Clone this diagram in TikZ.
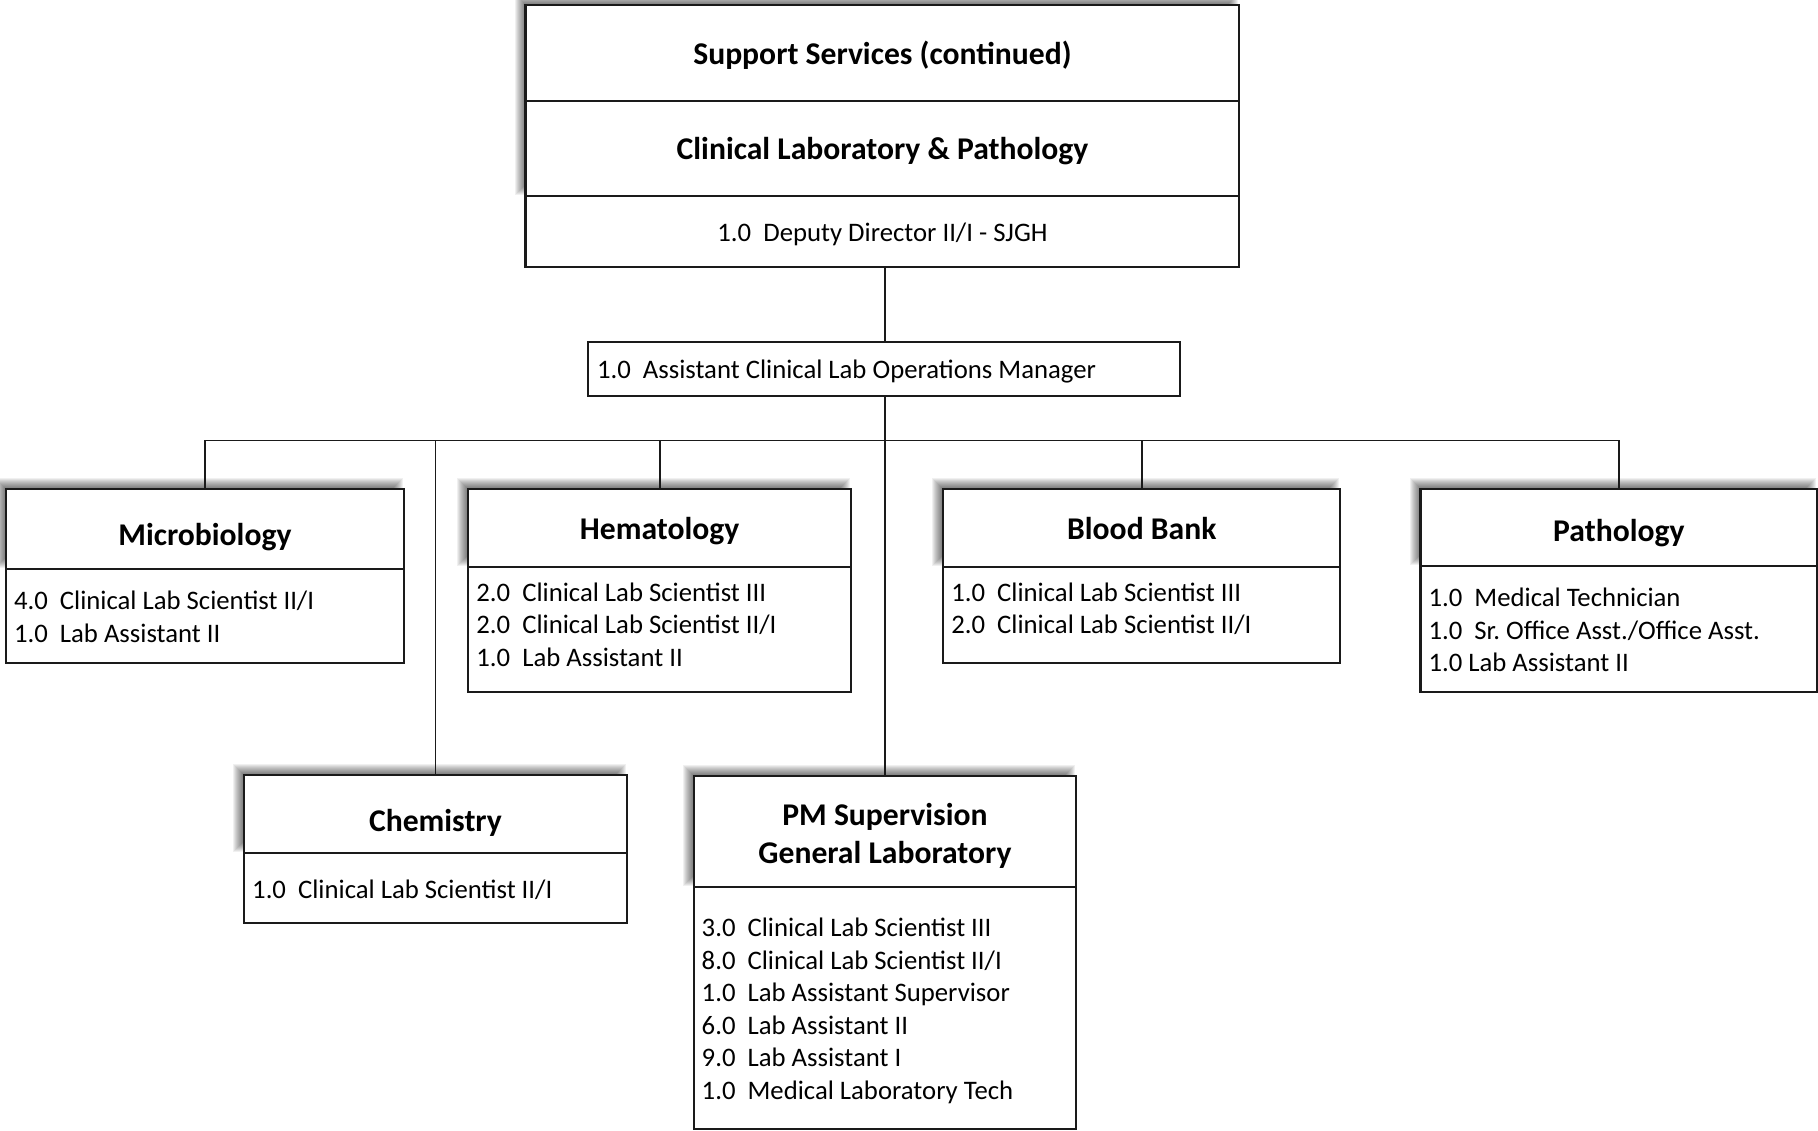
\documentclass[tikz,border=0pt]{standalone}
\usepackage{fontspec}
\setmainfont{Carlito}
\usetikzlibrary{positioning,calc,backgrounds}
\definecolor{orgline}{HTML}{1A1A1A}
\newcommand{\gap}{\ \ }
\frenchspacing

\begin{document}
\begin{tikzpicture}[x=0.01cm,y=-0.01cm,line join=miter,
  head/.style={draw=orgline,line width=.6pt,fill=white,outer sep=0pt,inner sep=0pt,
    align=center,anchor=north west,font=\fontsize{9}{10.9}\selectfont\bfseries},
  list/.style={draw=orgline,line width=.6pt,fill=white,outer sep=0pt,inner ysep=0pt,
    inner xsep=0.08cm,align=flush left,text width=#1,font=\fontsize{7.6}{9.25}\selectfont},
  link/.style={draw=orgline,line width=.5pt}]
\path[use as bounding box] (0,0) rectangle (1818,1131);

% top of the chart
\node[head,minimum width=7.135cm,text height=16.99pt,text depth=10.24pt] (support) at (525.5,5) {Support Services (continued)};
\node[head,minimum width=7.135cm,text height=16.79pt,text depth=10.24pt] (clinical) at (525.5,100.7) {Clinical Laboratory \& Pathology};
\node[head,font=\fontsize{7.6}{9.25}\selectfont,minimum width=7.135cm,text height=13pt,text depth=7.2pt] (deputy) at (525.5,195.7) {1.0\gap Deputy Director II/I - SJGH};
\node[list=5.736cm,inner xsep=0.09cm,text height=10.56pt,text depth=4.8pt,anchor=north west] (mgr) at (588,341.7) {1.0\gap Assistant Clinical Lab Operations Manager};

% units, first row
\node[head,minimum width=3.976cm,text height=15.95pt,text depth=6.9pt] (micro) at (6,489) {Microbiology};
\node[list=3.816cm,text height=11.5pt,text depth=15.07pt,below=0pt of micro] (microlist) {4.0\gap Clinical Lab Scientist II/I\\1.0\gap Lab Assistant II};
\node[head,minimum width=3.823cm,text height=14.41pt,text depth=7.78pt] (hema) at (468.4,488.7) {Hematology};
\node[list=3.663cm,text height=9.87pt,text depth=25.78pt,below=0pt of hema] (hemalist) {2.0\gap Clinical Lab Scientist III\\2.0\gap Clinical Lab Scientist II/I\\1.0\gap Lab Assistant II};
\node[head,minimum width=3.967cm,text height=14.41pt,text depth=7.78pt] (bank) at (943.3,488.7) {Blood Bank};
\node[list=3.807cm,text height=9.87pt,text depth=17.53pt,below=0pt of bank] (banklist) {1.0\gap Clinical Lab Scientist III\\2.0\gap Clinical Lab Scientist II/I};
\node[head,minimum width=3.965cm,text height=14.72pt,text depth=7.1pt] (path) at (1420.5,489.3) {Pathology};
\node[list=3.805cm,text height=11.5pt,text depth=24.35pt,below=0pt of path] (pathlist) {1.0\gap Medical Technician\\1.0\gap Sr. Office Asst./Office Asst.\\1.0 Lab Assistant II};

% units, second row
\node[head,minimum width=3.823cm,text height=15.86pt,text depth=6.33pt] (chem) at (244.2,775.3) {Chemistry};
\node[list=3.663cm,text height=12.75pt,text depth=7.08pt,below=0pt of chem] (chemlist) {1.0\gap Clinical Lab Scientist II/I};
\node[head,minimum width=3.823cm,text height=24.98pt,text depth=6.77pt] (pm) at (693.7,775.7) {PM Supervision\\General Laboratory};
\node[list=3.663cm,text height=13.97pt,text depth=54.79pt,below=0pt of pm] (pmlist) {3.0\gap Clinical Lab Scientist III\\8.0\gap Clinical Lab Scientist II/I\\1.0\gap Lab Assistant Supervisor\\6.0\gap Lab Assistant II\\9.0\gap Lab Assistant I\\1.0\gap Medical Laboratory Tech};

% soft shadows up and left of the title boxes
\begin{scope}[on background layer]
  \fill[white] (0,0) rectangle (1818,1131);
  \foreach \a/\b in {support/clinical,micro/micro,hema/hema,bank/bank,path/path,chem/chem,pm/pm}
    \foreach \r in {1,...,12}
      \fill[black,opacity=.06] ($(\a.north west)+(1-\r,1-\r)$) rectangle ($(\b.south east)+(\r-13,\r-13)$);
\end{scope}

% connectors
\coordinate (bus) at (0,440.6);
\draw[link] (deputy.south -| pm.north) -- (mgr.north -| pm.north);
\draw[link] (mgr.south -| pm.north) -- (pm.north);
\draw[link] (micro.north) |- (bus -| path.north) -- (path.north);
\draw[link] (hema.north) -- (hema.north |- bus);
\draw[link] (bank.north) -- (bank.north |- bus);
\draw[link] (chem.north) -- (chem.north |- bus);
\end{tikzpicture}
\end{document}
